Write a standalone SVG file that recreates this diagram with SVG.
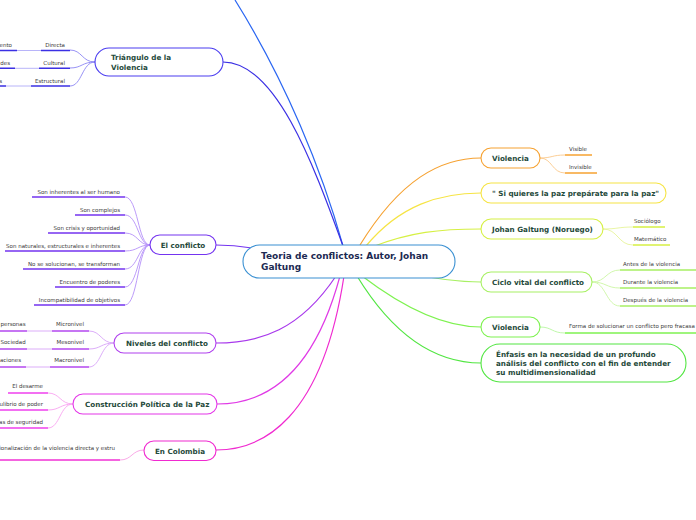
<svg xmlns="http://www.w3.org/2000/svg" width="696" height="520" viewBox="0 0 696 520">
<style>
.t{font-family:"DejaVu Sans",Verdana,sans-serif;font-weight:bold;font-size:7.2px;fill:#1f4a3b}
.c{font-family:"DejaVu Sans",Verdana,sans-serif;font-weight:bold;font-size:9px;fill:#1c2a52}
.s{font-family:"DejaVu Sans",Verdana,sans-serif;font-size:5.5px;fill:#3a3a3a}
.e{text-anchor:end}
.n{fill:#fff;stroke-width:1.1}
.u{fill:none;stroke-width:1.6}
.l{fill:none;stroke-width:0.9}
.b{fill:none;stroke-width:1.2}
</style>
<rect width="696" height="520" fill="#fff"/>
<g id="connectors">
<path class="b" stroke="#2a66f2" d="M343,246 C322,170 285,80 235,0"/>
<path class="b" stroke="#3b30e4" d="M343,246 C312,160 275,62 223,62"/>
<path class="b" stroke="#7434f0" d="M216,245 C230,245 240,246 252,248"/>
<path class="b" stroke="#a838ec" d="M336,276 C300,330 260,343 216,343"/>
<path class="b" stroke="#e03ae6" d="M340,276 C312,380 262,404 217,404"/>
<path class="b" stroke="#f02ad0" d="M344,276 C322,420 262,450 216,450"/>
<path class="b" stroke="#f6a232" d="M360,245 C400,180 440,158 481,158"/>
<path class="b" stroke="#f6e444" d="M366,246 C400,205 440,193 481,193"/>
<path class="b" stroke="#d6f044" d="M372,247 C410,232 440,229 481,229"/>
<path class="b" stroke="#a8f064" d="M400,272 C440,280 460,282 481,282"/>
<path class="b" stroke="#7ef250" d="M362,276 C400,305 440,327 481,327"/>
<path class="b" stroke="#52e642" d="M357,276 C390,330 430,363 481,363"/>
<!-- Triangulo children -->
<g stroke="#3b30e4">
<path class="l" stroke="#8c86f4" d="M95,62 C82,62 82,50 70,50 M95,62 C82,62 82,68 70,68 M95,62 C82,62 82,86 70,86"/>
<path class="u" d="M41,50.5 H70 M39,68.3 H70 M31,86 H70 M0,50.5 H17 M0,68.3 H15 M0,86 H6"/>
<path class="l" stroke="#b0acf8" d="M17,50.5 H41 M15,68.3 H39 M6,86 H31"/>
</g>
<!-- El conflicto children -->
<path class="l" stroke="#b490f8" d="M150,245 C138,245 138,197 125,197 M150,245 C138,245 138,215 125,215 M150,245 C138,245 138,233 125,233 M150,245 C138,245 138,251 125,251 M150,245 C138,245 138,269 125,269 M150,245 C138,245 138,287 125,287 M150,245 C138,245 138,305 125,305"/>
<path class="u" stroke="#7434f0" d="M32,197 H125 M75,215 H125 M48,233 H125 M5,251 H125 M23,269 H125 M55,287 H125 M34,305 H125"/>
<!-- Niveles children -->
<path class="l" stroke="#d8a4f8" d="M114,343 C101,343 101,331 89,331 M114,343 C101,343 101,349 89,349 M114,343 C101,343 101,367 89,367 M27,331 H52 M27,349 H52 M26,367 H50"/>
<path class="u" stroke="#b448f0" d="M52,331 H89 M52,349 H89 M50,367 H89 M0,331 H27 M0,349 H27 M0,367 H26"/>
<!-- Construccion children -->
<path class="l" stroke="#f8a4f0" d="M73,404 C60,404 60,393 48,393 M73,404 C60,404 60,410 48,410 M73,404 C60,404 60,428 48,428"/>
<path class="u" stroke="#f040ee" d="M8,393 H48 M0,410 H48 M0,428 H48"/>
<!-- En Colombia child -->
<path class="l" stroke="#f8a0e4" d="M144,450 C132,450 132,460 120,460"/>
<path class="u" stroke="#f030d4" d="M0,460 H120"/>
<!-- Violencia orange children -->
<path class="l" stroke="#fac88a" d="M540,158 C552,158 552,155 565,155 M540,158 C552,158 552,173 565,173"/>
<path class="u" stroke="#f6a232" d="M565,155 H592 M565,173 H597"/>
<!-- Johan children -->
<path class="l" stroke="#e6f49a" d="M603,229 C618,229 618,227 633,227 M603,229 C618,229 618,245 633,245"/>
<path class="u" stroke="#d6f044" d="M633,227 H665 M633,245 H670"/>
<!-- Ciclo children -->
<path class="l" stroke="#ccf6a4" d="M592,282 C606,282 606,270 620,270 M592,282 C606,282 606,288 620,288 M592,282 C606,282 606,306 620,306"/>
<path class="u" stroke="#a8f064" d="M620,270 H696 M620,288 H696 M620,306 H696"/>
<!-- Violencia green child -->
<path class="l" stroke="#b8f6a0" d="M540,327 C552,327 552,333 565,333"/>
<path class="u" stroke="#7ef250" d="M565,333 H696"/>
</g>
<g id="central">
<rect class="n" x="243" y="245" width="212" height="33" rx="16.5" stroke="#3a90d2"/>
<text class="c" x="261" y="259">Teoria de conflictos: Autor, Johan</text>
<text class="c" x="261" y="270">Galtung</text>
</g>
<g id="triangulo">
<rect class="n" x="95" y="48" width="128" height="28" rx="14" stroke="#4a3cf0"/>
<text class="t" x="111" y="60">Triángulo de la</text>
<text class="t" x="111" y="69.5">Violencia</text>
<text class="s e" x="65" y="46.5">Directa</text>
<text class="s e" x="65" y="64.5">Cultural</text>
<text class="s e" x="65" y="82.5">Estructural</text>
<text class="s e" x="12" y="46.5">ento</text>
<text class="s e" x="10" y="64.5">des</text>
<text class="s e" x="2" y="82.5">s</text>
</g>
<g id="conflicto">
<rect class="n" x="150" y="235" width="66" height="19.5" rx="9.75" stroke="#7434f0"/>
<text class="t" x="183" y="247.5" text-anchor="middle">El conflicto</text>
<text class="s e" x="120" y="193.5">Son inherentes al ser humano</text>
<text class="s e" x="120" y="211.5">Son complejos</text>
<text class="s e" x="120" y="229.5">Son crisis y oportunidad</text>
<text class="s e" x="120" y="247.5">Son naturales, estructurales e inherentes</text>
<text class="s e" x="120" y="265.5">No se solucionan, se transforman</text>
<text class="s e" x="120" y="283.5">Encuentro de poderes</text>
<text class="s e" x="120" y="301.5">Incompatibilidad de objetivos</text>
</g>
<g id="niveles">
<rect class="n" x="114" y="333" width="102" height="20" rx="10" stroke="#b040ee"/>
<text class="t" x="126" y="346">Niveles del conflicto</text>
<text class="s e" x="84" y="326">Micronivel</text>
<text class="s e" x="84" y="344">Mesonivel</text>
<text class="s e" x="84" y="362">Macronivel</text>
<text class="s" x="0.5" y="326">personas</text>
<text class="s" x="0.5" y="344">Sociedad</text>
<text class="s e" x="21" y="362">aciones</text>
</g>
<g id="construccion">
<rect class="n" x="73" y="394" width="144" height="20" rx="10" stroke="#e436e8"/>
<text class="t" x="85" y="407">Construcción Política de la Paz</text>
<text class="s e" x="43" y="388">El desarme</text>
<text class="s e" x="43" y="406">ulibrio de poder</text>
<text class="s e" x="43" y="424">as de seguridad</text>
</g>
<g id="colombia">
<rect class="n" x="144" y="441" width="72" height="19.5" rx="9.75" stroke="#f02ad0"/>
<text class="t" x="180" y="453.5" text-anchor="middle">En Colombia</text>
<text class="s e" x="115" y="449.5">ionalización de la violencia directa y estru</text>
</g>
<g id="violencia1">
<rect class="n" x="481" y="148" width="59" height="20" rx="10" stroke="#f6a232"/>
<text class="t" x="492" y="161">Violencia</text>
<text class="s" x="569" y="151">Visible</text>
<text class="s" x="569" y="169">Invisible</text>
</g>
<g id="quieres">
<rect class="n" x="481" y="183" width="185" height="20" rx="10" stroke="#f6e444"/>
<text class="t" x="492" y="196">" Si quieres la paz prepárate para la paz"</text>
</g>
<g id="johan">
<rect class="n" x="481" y="219" width="122" height="20" rx="10" stroke="#d6f044"/>
<text class="t" x="492" y="232">Johan Galtung (Noruego)</text>
<text class="s" x="634" y="223">Sociólogo</text>
<text class="s" x="634" y="241">Matemático</text>
</g>
<g id="ciclo">
<rect class="n" x="481" y="272" width="111" height="20" rx="10" stroke="#a8f064"/>
<text class="t" x="492" y="285">Ciclo vital del conflicto</text>
<text class="s" x="623" y="266">Antes de la violencia</text>
<text class="s" x="623" y="284">Durante la violencia</text>
<text class="s" x="623" y="302">Después de la violencia</text>
</g>
<g id="violencia2">
<rect class="n" x="481" y="317" width="59" height="20" rx="10" stroke="#7ef250"/>
<text class="t" x="492" y="330">Violencia</text>
<text class="s" x="569" y="328">Forma de solucionar un conflicto pero fracasa</text>
</g>
<g id="enfasis">
<rect class="n" x="481" y="344" width="205" height="38" rx="19" stroke="#52e642"/>
<text class="t" x="496" y="357">Énfasis en la necesidad de un profundo</text>
<text class="t" x="496" y="366">análisis del conflicto con el fin de entender</text>
<text class="t" x="496" y="375">su multidimensionalidad</text>
</g>
</svg>
